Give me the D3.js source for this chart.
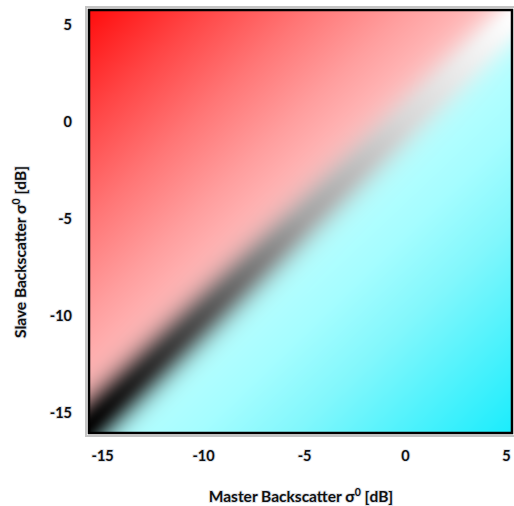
<!DOCTYPE html>
<html>
<head>
<meta charset="utf-8">
<script src="https://cdn.jsdelivr.net/npm/d3@7"></script>
<style>
  body { margin: 0; background: #fff; }
  text { font-family: Lato, "Open Sans", sans-serif; font-weight: bold; fill: #111; }
</style>
</head>
<body>
<svg id="chart" width="514" height="506"></svg>
<script>
// Axis ranges and ticks (dB)
const xDomain = [-15.6, 5.25];
const yDomain = [-16.0, 5.72];
const xTicks = [-15, -10, -5, 0, 5];
const yTicks = [-15, -10, -5, 0, 5];

// Colour, as a function of slave - master difference (dB)
const diffStops = [0, 5.7, 10.5, 15.7, 21.5];
const redTint = [200, 158, 118, 70, 12];      // G = B on the slave > master side
const cyanRed = [190, 165, 130, 80, 25];      // R on the master > slave side
const cyanGreen = [255, 253, 247, 242, 236];
const cyanBlue = [255, 255, 252, 252, 252];

// Grey along the diagonal, as a function of mean level (dB)
const levelStops = [-16, -10, -5, 0, 5.5];
const greyStops = [0, 85, 165, 215, 255];
const blendWidth = 1.5;

const plot = {left: 90, right: 511, top: 11, bottom: 432};

const svg = d3.select("#chart");

const x = d3.scaleLinear().domain(xDomain).range([plot.left, plot.right]);
const y = d3.scaleLinear().domain(yDomain).range([plot.bottom, plot.top]);

const tint = d3.scaleLinear().domain(diffStops).range(redTint).clamp(true);
const cR = d3.scaleLinear().domain(diffStops).range(cyanRed).clamp(true);
const cG = d3.scaleLinear().domain(diffStops).range(cyanGreen).clamp(true);
const cB = d3.scaleLinear().domain(diffStops).range(cyanBlue).clamp(true);
const grey = d3.scaleLinear().domain(levelStops).range(greyStops).clamp(true);

// Paint the field into a canvas, then place it as an image
const w = plot.right - plot.left;
const h = plot.bottom - plot.top;
const canvas = document.createElement("canvas");
canvas.width = w;
canvas.height = h;
const ctx = canvas.getContext("2d");
const img = ctx.createImageData(w, h);

for (let j = 0; j < h; j++) {
    const sv = y.invert(plot.top + j + 0.5);
    for (let i = 0; i < w; i++) {
        const mv = x.invert(plot.left + i + 0.5);
        const d = sv - mv;
        const a = Math.abs(d);
        let r, g, b;
        if (d >= 0) {
            r = 255; g = tint(a); b = tint(a);
        } else {
            r = cR(a); g = cG(a); b = cB(a);
        }
        const k = Math.exp(-(d / blendWidth) * (d / blendWidth));
        const gv = grey((sv + mv) / 2);
        const p = (j * w + i) * 4;
        img.data[p] = r * (1 - k) + gv * k;
        img.data[p + 1] = g * (1 - k) + gv * k;
        img.data[p + 2] = b * (1 - k) + gv * k;
        img.data[p + 3] = 255;
    }
}
ctx.putImageData(img, 0, 0);

svg.append("image")
    .attr("x", plot.left)
    .attr("y", plot.top)
    .attr("width", w)
    .attr("height", h)
    .attr("href", canvas.toDataURL());

// Frame: grey shadow + black border
svg.append("rect")
    .attr("x", plot.left - 4)
    .attr("y", plot.top - 4)
    .attr("width", w + 8)
    .attr("height", h + 8)
    .attr("fill", "none")
    .attr("stroke", "#c4c4c4")
    .attr("stroke-width", 2);

svg.append("rect")
    .attr("x", plot.left - 1)
    .attr("y", plot.top - 1)
    .attr("width", w + 2)
    .attr("height", h + 2)
    .attr("fill", "none")
    .attr("stroke", "#000")
    .attr("stroke-width", 2.5);

// Axes (labels only)
const xAxis = svg.append("g")
    .attr("transform", `translate(0,${plot.bottom})`)
    .call(d3.axisBottom(x).tickValues(xTicks).tickSize(0).tickPadding(19).tickFormat(d => String(d)));

const yAxis = svg.append("g")
    .attr("transform", `translate(${plot.left},0)`)
    .call(d3.axisLeft(y).tickValues(yTicks).tickSize(0).tickPadding(18).tickFormat(d => String(d)));

[xAxis, yAxis].forEach(ax => {
    ax.select(".domain").remove();
    ax.selectAll("text")
        .style("font-family", "Lato, 'Open Sans', sans-serif")
        .style("font-weight", "bold")
        .style("font-size", "14.5px")
        .attr("fill", "#111")
        .attr("stroke", "#c9ced8")
        .attr("stroke-width", 2)
        .attr("stroke-opacity", 0.6)
        .attr("paint-order", "stroke");
});

// Axis titles
function title(sel, label) {
    sel.style("font-size", "15.5px")
        .attr("text-anchor", "middle")
        .attr("stroke", "#c9ced8")
        .attr("stroke-width", 2)
        .attr("stroke-opacity", 0.6)
        .attr("paint-order", "stroke");
    sel.append("tspan").text(label + " σ");
    sel.append("tspan").attr("dy", -6).style("font-size", "10.5px").text("0");
    sel.append("tspan").attr("dy", 6).text(" [dB]");
}

svg.append("text")
    .attr("x", 301)
    .attr("y", 502)
    .call(title, "Master Backscatter");

svg.append("text")
    .attr("transform", "translate(26,252) rotate(-90)")
    .call(title, "Slave Backscatter");
</script>
</body>
</html>
